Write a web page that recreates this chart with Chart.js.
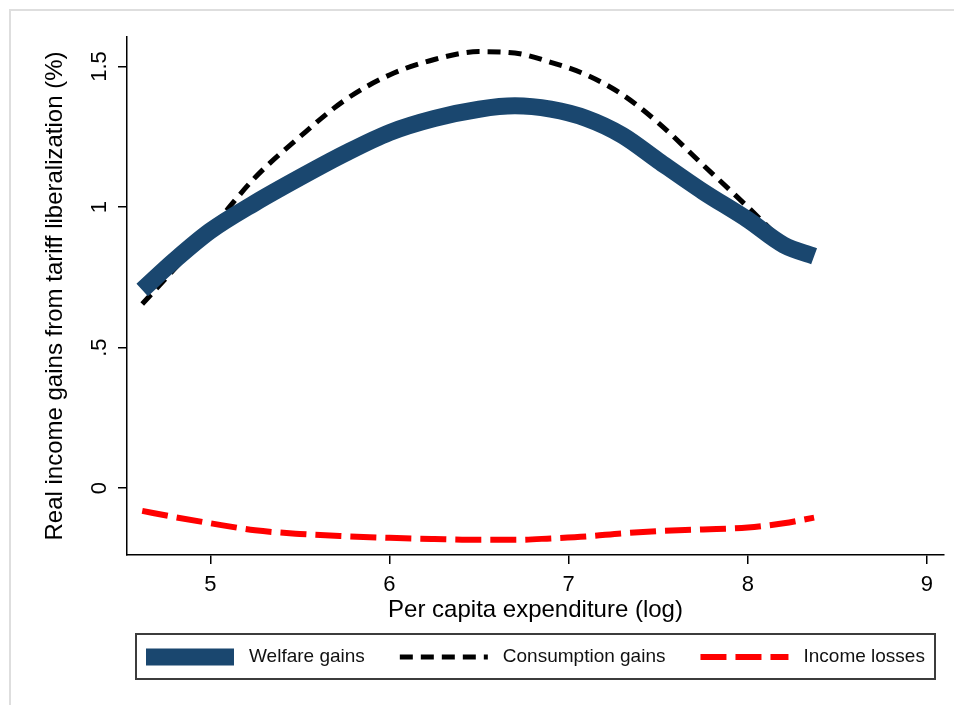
<!DOCTYPE html>
<html>
<head>
<meta charset="utf-8">
<script src="https://cdn.jsdelivr.net/npm/chart.js@4.4.1/dist/chart.umd.min.js"></script>
<style>
  html, body { margin: 0; padding: 0; background: #fff; overflow: hidden; }
  #wrap { position: relative; width: 954px; height: 705px; }
  #frame { position: absolute; left: 9px; top: 9px; width: 1000px; height: 800px; border: 2px solid #dedede; }
  canvas { position: absolute; left: 0; top: 0; }
</style>
</head>
<body>
<div id="wrap">
  <div id="frame"></div>
  <canvas id="chart" width="954" height="705"></canvas>
</div>
<script>
// per capita expenditure (log) and the three smoothed curves
const logExp = [4.62, 4.8, 5.0, 5.25, 5.5, 5.75, 6.0, 6.25, 6.5, 6.7, 6.9, 7.1, 7.3, 7.5, 7.75, 8.0, 8.2, 8.37];
const welfareGains = [0.705, 0.81, 0.915, 1.015, 1.105, 1.19, 1.265, 1.315, 1.348, 1.36, 1.348, 1.315, 1.255, 1.165, 1.055, 0.955, 0.865, 0.825];
const consumptionGains = [0.655, 0.78, 0.92, 1.105, 1.25, 1.38, 1.47, 1.525, 1.553, 1.548, 1.515, 1.47, 1.40, 1.30, 1.15, 1.0, 0.875, null];
const incomeLosses = [-0.081, -0.103, -0.125, -0.150, -0.163, -0.171, -0.177, -0.181, -0.184, -0.184, -0.179, -0.172, -0.161, -0.153, -0.147, -0.14, -0.125, -0.105];

const xTicks = [5, 6, 7, 8, 9];
const yTicks = [0, 0.5, 1, 1.5];

const FONT = "'Liberation Sans', Arial, sans-serif";

function points(ys) {
    return logExp.map((x, i) => ({ x: x, y: ys[i] }));
}

// Stata style boxed legend under the plot
const boxLegend = {
    id: 'boxLegend',
    afterDraw(chart) {
        const ctx = chart.ctx;
        ctx.save();
        ctx.strokeStyle = '#3c3c3c';
        ctx.lineWidth = 2;
        ctx.strokeRect(136, 634, 799, 45);

        ctx.font = '19px ' + FONT;
        ctx.textBaseline = 'middle';
        ctx.fillStyle = '#111';
        let x = 146;
        const y = 657;
        chart.data.datasets.forEach(ds => {
            ctx.save();
            ctx.strokeStyle = ds.borderColor;
            ctx.lineWidth = ds.borderWidth;
            ctx.lineCap = 'butt';
            ctx.setLineDash(ds.borderDash || []);
            ctx.beginPath();
            ctx.moveTo(x, y);
            ctx.lineTo(x + 88, y);
            ctx.stroke();
            ctx.restore();
            ctx.fillText(ds.label, x + 103, y);
            x += 103 + ctx.measureText(ds.label).width + 35;
        });
        ctx.restore();
    }
};

new Chart(document.getElementById('chart'), {
    type: 'line',
    data: {
        datasets: [{
            label: 'Welfare gains',
            data: points(welfareGains),
            borderColor: '#1a476f',
            borderWidth: 17,
            borderCapStyle: 'butt',
            pointRadius: 0,
            cubicInterpolationMode: 'monotone'
        }, {
            label: 'Consumption gains',
            data: points(consumptionGains),
            borderColor: '#000000',
            borderWidth: 5,
            borderDash: [13, 8],
            borderCapStyle: 'butt',
            pointRadius: 0,
            cubicInterpolationMode: 'monotone'
        }, {
            label: 'Income losses',
            data: points(incomeLosses),
            borderColor: '#ff0000',
            borderWidth: 6,
            borderDash: [26, 9],
            borderCapStyle: 'butt',
            pointRadius: 0,
            cubicInterpolationMode: 'monotone'
        }]
    },
    options: {
        responsive: false,
        animation: false,
        devicePixelRatio: 1,
        layout: { padding: { left: 0, top: 37, right: 10, bottom: 80 } },
        plugins: {
            legend: { display: false },
            tooltip: { enabled: false }
        },
        scales: {
            x: {
                type: 'linear',
                min: 4.535,
                max: 9.095,
                afterBuildTicks: scale => { scale.ticks = xTicks.map(v => ({ value: v })); },
                afterFit: scale => { scale.height = 70; },
                border: { color: '#000', width: 1.5 },
                grid: { drawOnChartArea: false, drawTicks: true, tickLength: 9, color: '#000', lineWidth: 1.5 },
                ticks: { color: '#000', font: { family: FONT, size: 22 }, padding: 8, maxRotation: 0 },
                title: {
                    display: true,
                    text: 'Per capita expenditure (log)',
                    color: '#000',
                    font: { family: FONT, size: 24 },
                    padding: { top: 0, bottom: 0 }
                }
            },
            y: {
                type: 'linear',
                min: -0.238,
                max: 1.605,
                afterBuildTicks: scale => { scale.ticks = yTicks.map(v => ({ value: v })); },
                afterFit: scale => { scale.width = 127; },
                border: { color: '#000', width: 1.5 },
                grid: { drawOnChartArea: false, drawTicks: true, tickLength: 9, color: '#000', lineWidth: 1.5 },
                ticks: {
                    color: '#000',
                    font: { family: FONT, size: 22 },
                    padding: 3,
                    minRotation: 90,
                    maxRotation: 90,
                    crossAlign: 'center',
                    callback: v => v === 0 ? '0' : (v < 1 ? String(v).replace(/^0/, '') : String(v))
                },
                title: {
                    display: true,
                    text: 'Real income gains from tariff liberalization (%)',
                    color: '#000',
                    font: { family: FONT, size: 24 },
                    padding: { top: 41, bottom: 0 }
                }
            }
        }
    },
    plugins: [boxLegend]
});
</script>
</body>
</html>
